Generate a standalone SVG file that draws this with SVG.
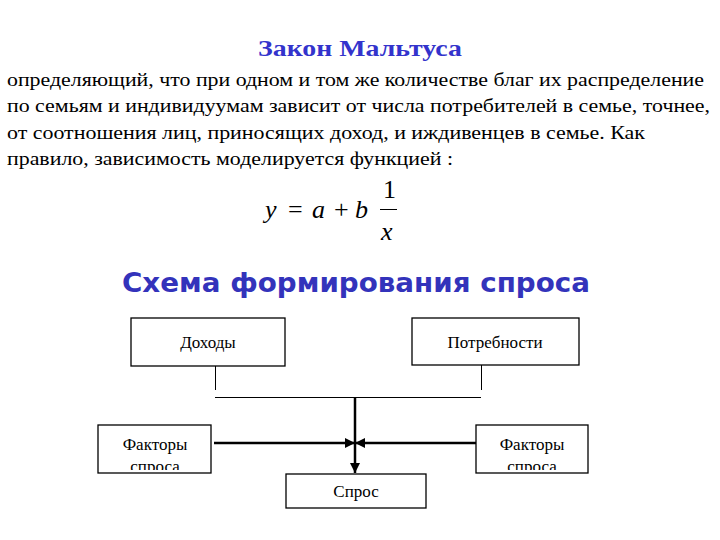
<svg xmlns="http://www.w3.org/2000/svg" width="720" height="540" viewBox="0 0 720 540">
<style>
.title{font-family:"Liberation Serif","DejaVu Serif","Times New Roman",serif;font-weight:bold;font-size:24px;fill:#3333cc}
.head{font-family:"DejaVu Sans",Verdana,sans-serif;font-weight:bold;font-size:26px;fill:#3333bb}
.body{font-family:"Liberation Serif","DejaVu Serif","Times New Roman",serif;font-size:19px;fill:#000}
.math{font-family:"Liberation Serif","DejaVu Serif","Times New Roman",serif;font-style:italic;font-size:26px;fill:#000}
.mathn{font-family:"Liberation Serif","DejaVu Serif","Times New Roman",serif;font-size:26px;fill:#000}
.box{fill:#fff;stroke:#000;stroke-width:1.3}
.lbl{font-family:"Liberation Serif","DejaVu Serif","Times New Roman",serif;font-size:17px;fill:#000;text-anchor:middle}
.thin{stroke:#000;stroke-width:1;fill:none}
.thick{stroke:#000;stroke-width:2.5;fill:none}
</style>
<defs>
<marker id="ah" viewBox="0 0 10 10" refX="10" refY="5" markerWidth="4" markerHeight="4" orient="auto" markerUnits="strokeWidth">
<path d="M0,0 L10,5 L0,10 Z" fill="#000"/>
</marker>
<clipPath id="clipL"><rect x="98" y="425" width="113" height="45"/></clipPath>
<clipPath id="clipR"><rect x="476" y="425" width="112" height="45"/></clipPath>
</defs>
<rect width="720" height="540" fill="#fff"/>
<text class="title" x="360" y="56" text-anchor="middle" textLength="204" lengthAdjust="spacingAndGlyphs">Закон Мальтуса</text>
<text class="body" x="7" y="86" textLength="697" lengthAdjust="spacingAndGlyphs">определяющий, что при одном и том же количестве благ их распределение</text>
<text class="body" x="7" y="112" textLength="703" lengthAdjust="spacingAndGlyphs">по семьям и индивидуумам зависит от числа потребителей в семье, точнее,</text>
<text class="body" x="7" y="139" textLength="638" lengthAdjust="spacingAndGlyphs">от соотношения лиц, приносящих доход, и иждивенцев в семье. Как</text>
<text class="body" x="7" y="165" textLength="446" lengthAdjust="spacingAndGlyphs">правило, зависимость моделируется функцией :</text>
<g id="formula">
<text class="math" x="265" y="218">y</text>
<text class="mathn" x="288" y="218">=</text>
<text class="math" x="312" y="218">a</text>
<text class="mathn" x="334" y="218">+</text>
<text class="math" x="355" y="218">b</text>
<text class="mathn" x="383" y="198">1</text>
<line x1="380" y1="209.5" x2="397" y2="209.5" stroke="#000" stroke-width="1"/>
<text class="math" x="381" y="240">x</text>
</g>
<text class="head" x="356" y="292" text-anchor="middle" textLength="468" lengthAdjust="spacingAndGlyphs">Схема формирования спроса</text>
<g id="connectors">
<line class="thin" x1="215.5" y1="366" x2="215.5" y2="390"/>
<line class="thin" x1="481.5" y1="365" x2="481.5" y2="390"/>
<line class="thin" x1="215" y1="397.5" x2="481" y2="397.5"/>
<line class="thick" x1="355" y1="397" x2="355" y2="473" marker-end="url(#ah)"/>
<line class="thick" x1="214" y1="443" x2="355" y2="443" marker-end="url(#ah)"/>
<line class="thick" x1="476" y1="443" x2="355" y2="443" marker-end="url(#ah)"/>
</g>
<g id="income">
<rect class="box" x="131" y="318" width="154" height="48"/>
<text class="lbl" x="208" y="348">Доходы</text>
</g>
<g id="needs">
<rect class="box" x="412" y="318" width="167" height="47"/>
<text class="lbl" x="495" y="348">Потребности</text>
</g>
<g id="factorsL">
<rect class="box" x="98" y="425" width="113" height="48"/>
<g clip-path="url(#clipL)">
<text class="lbl" x="155" y="450">Факторы</text>
<text class="lbl" x="155" y="472">спроса</text>
</g>
</g>
<g id="factorsR">
<rect class="box" x="476" y="425" width="112" height="48"/>
<g clip-path="url(#clipR)">
<text class="lbl" x="532" y="450">Факторы</text>
<text class="lbl" x="532" y="472">спроса</text>
</g>
</g>
<g id="demand">
<rect class="box" x="286" y="474" width="140" height="34"/>
<text class="lbl" x="356" y="497">Спрос</text>
</g>
</svg>
